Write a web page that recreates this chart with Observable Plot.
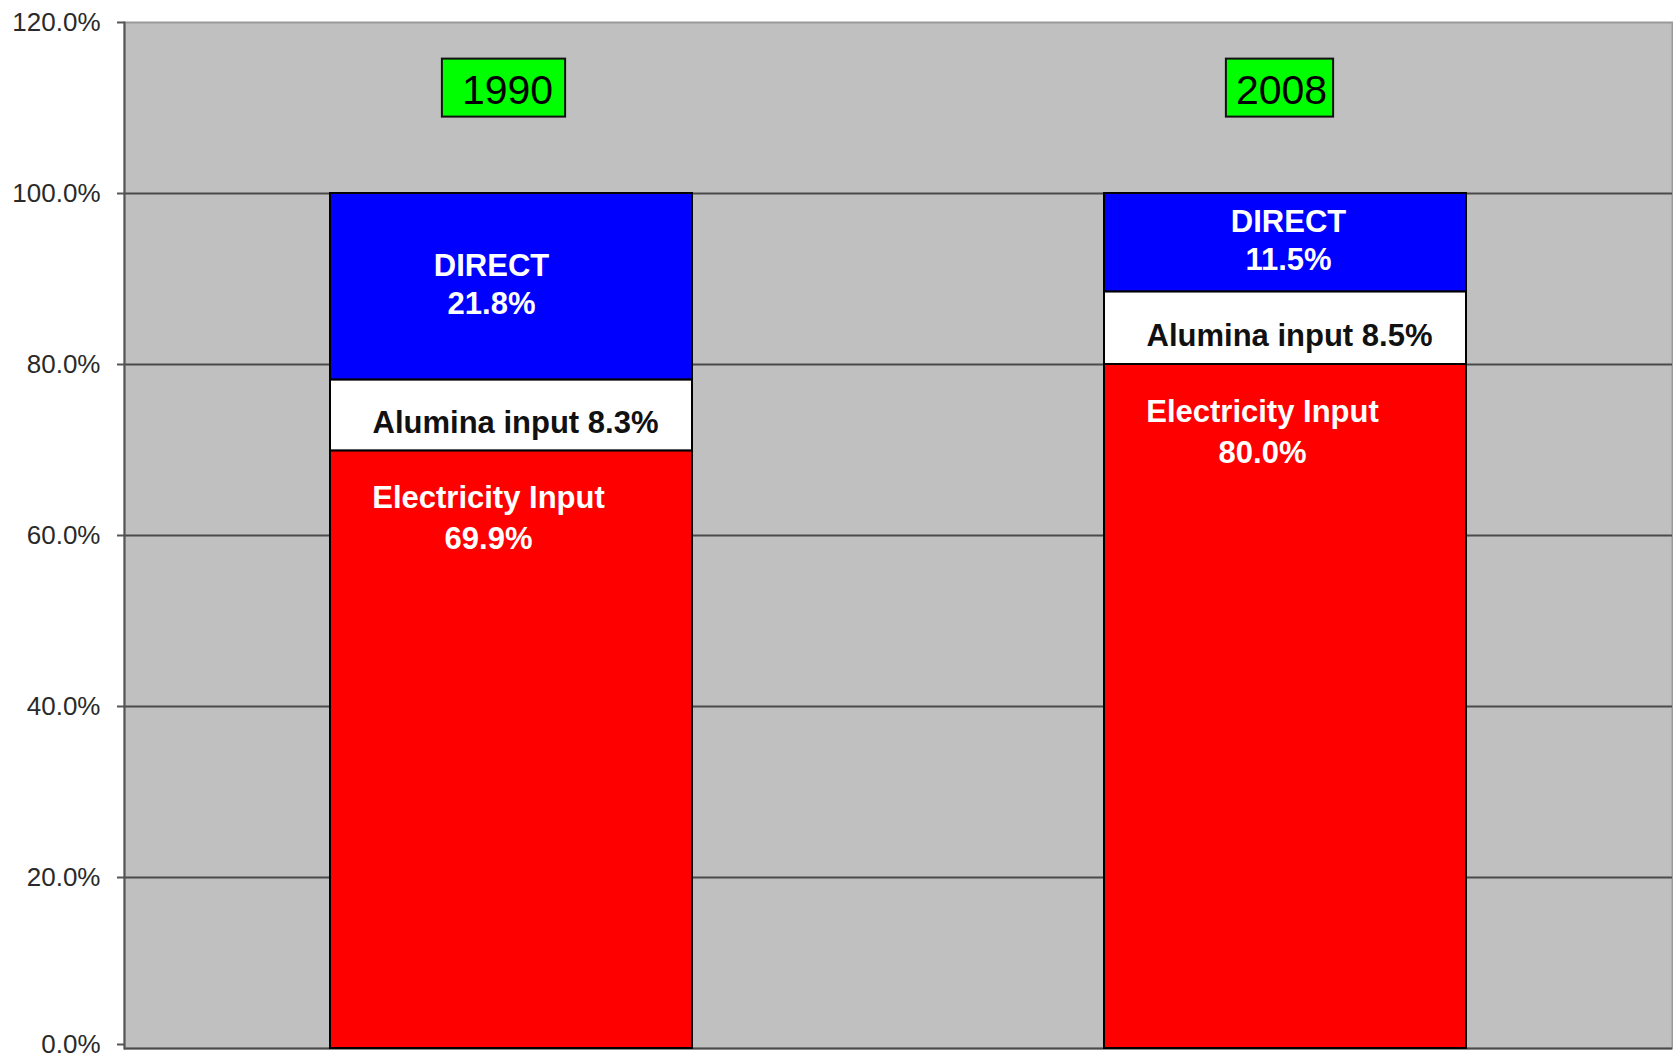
<!DOCTYPE html>
<html>
<head>
<meta charset="utf-8">
<script src="https://cdn.jsdelivr.net/npm/d3@7"></script>
<script src="https://cdn.jsdelivr.net/npm/@observablehq/plot@0.6"></script>
<style>
  html, body { margin: 0; padding: 0; background: white; }
</style>
</head>
<body>
<div id="chart"></div>
<script>
const years = ["1990", "2008"];
const seriesNames = ["Electricity Input", "Alumina input", "DIRECT"];
const electricity = [69.9, 80.0];
const alumina = [8.3, 8.5];
const direct = [21.8, 11.5];
const yTicks = [0, 20, 40, 60, 80, 100, 120];
const gridTicks = [0, 20, 40, 60, 80, 100];
const seriesColors = ["#ff0000", "#ffffff", "#0000ff"];

const rows = years.flatMap((year, i) => [
  {year, series: seriesNames[0], value: electricity[i]},
  {year, series: seriesNames[1], value: alumina[i]},
  {year, series: seriesNames[2], value: direct[i]}
]);

const elecLabels = years.map((year, i) => ({
  year, y: electricity[i], text: `${seriesNames[0]}\n${electricity[i].toFixed(1)}%`
}));
const alumLabels = years.map((year, i) => ({
  year, y: electricity[i] + alumina[i] / 2, text: `${seriesNames[1]} ${alumina[i].toFixed(1)}%`
}));
const directLabels = years.map((year, i) => ({
  year, y: electricity[i] + alumina[i] + direct[i] / 2, text: `${seriesNames[2]}\n${direct[i].toFixed(1)}%`
}));

const labelFont = "'Liberation Sans', Arial, sans-serif";
// per-year horizontal nudges of the DIRECT label (style only)
const directNudge = [-20, 3];
// per-year padding of the green year boxes (style only)
const boxPadLeft = [20, 10];
const boxPadRight = [12, 6];

const axisStyle = {
  tickSize: 7, tickPadding: 17, label: null,
  tickFormat: d => d.toFixed(1) + "%",
  fontSize: 26, stroke: "#555", fill: "#2a2a2a", strokeWidth: 2
};

const chart = Plot.plot({
  width: 1673,
  height: 1059,
  marginLeft: 124,
  marginRight: 1,
  marginTop: 22,
  marginBottom: 11,
  style: {fontFamily: labelFont, background: "white", overflow: "visible"},
  x: {domain: years, paddingInner: 0.532, paddingOuter: 0.266, axis: null},
  y: {domain: [0, 120]},
  color: {domain: seriesNames, range: seriesColors},
  marks: [
    Plot.frame({fill: "#c0c0c0", stroke: "#9a9a9a", strokeWidth: 2}),
    Plot.ruleY(gridTicks, {stroke: "#4a4a4a", strokeWidth: 2}),
    Plot.axisY({...axisStyle, ticks: yTicks.filter(t => t > 0)}),
    Plot.axisY({...axisStyle, ticks: yTicks.filter(t => t === 0), dy: -4}),
    Plot.frame({anchor: "left", stroke: "#555", strokeWidth: 2}),
    Plot.barY(rows, Plot.stackY({x: "year", y: "value", fill: "series", stroke: "black", strokeWidth: 2})),
    ...years.map((yr, i) => Plot.text(directLabels.filter(d => d.year === yr), {
      x: "year", y: "y", text: "text", fill: "white", fontSize: 31, fontWeight: "bold",
      lineHeight: 1.23, dx: directNudge[i], dy: -4
    })),
    Plot.text(alumLabels, {
      x: "year", y: "y", text: "text", fill: "#111", fontSize: 31, fontWeight: "bold", dx: 4, dy: 8
    }),
    Plot.text(elecLabels, {
      x: "year", y: "y", text: "text", fill: "white", fontSize: 31, fontWeight: "bold",
      lineAnchor: "top", lineHeight: 1.33, dx: -23, dy: 28
    }),
    Plot.text(years, {
      x: d => d, text: d => d, frameAnchor: "top", lineAnchor: "top", dy: 52, dx: -4,
      fontSize: 41, fill: "black"
    })
  ]
});

document.getElementById("chart").appendChild(chart);

// Green boxes behind the year labels, sized from the rendered text
const svgRect = chart.getBoundingClientRect();
const yearTexts = Array.from(chart.querySelectorAll("text")).filter(t => years.includes(t.textContent.trim()));
yearTexts.forEach(t => {
  const i = years.indexOf(t.textContent.trim());
  const b = t.getBoundingClientRect();
  const r = document.createElementNS("http://www.w3.org/2000/svg", "rect");
  const x0 = b.left - svgRect.left - boxPadLeft[i];
  const x1 = b.right - svgRect.left + boxPadRight[i];
  const y0 = b.top - svgRect.top - 8;
  const y1 = b.bottom - svgRect.top + 4;
  r.setAttribute("x", x0);
  r.setAttribute("y", y0);
  r.setAttribute("width", x1 - x0);
  r.setAttribute("height", y1 - y0);
  r.setAttribute("fill", "#00ff00");
  r.setAttribute("stroke", "#111");
  r.setAttribute("stroke-width", 2);
  const g = t.closest("g");
  g.parentNode.insertBefore(r, g);
});
</script>
</body>
</html>
